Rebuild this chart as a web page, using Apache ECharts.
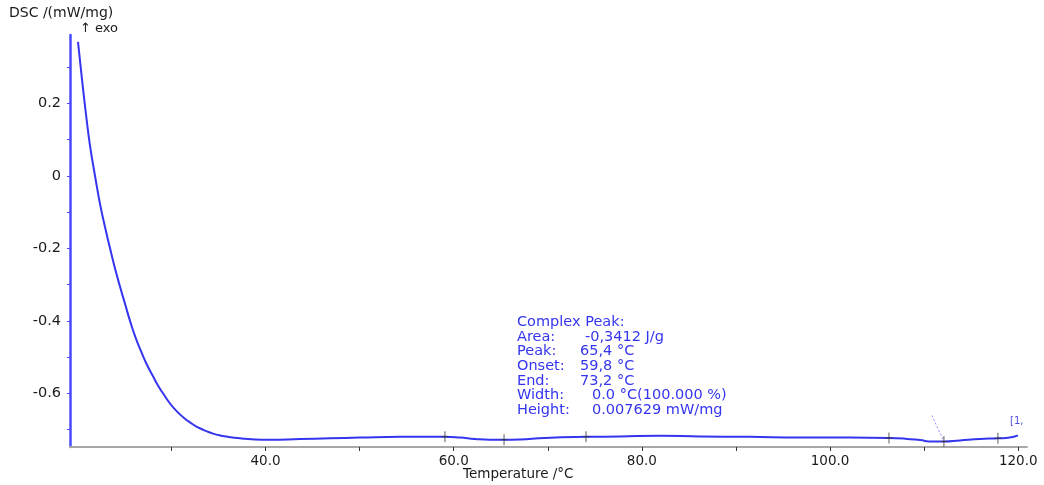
<!DOCTYPE html>
<html>
<head>
<meta charset="utf-8">
<script src="https://cdn.jsdelivr.net/npm/echarts@6/dist/echarts.min.js"></script>
<style>
html,body{margin:0;padding:0;background:#fff;}
#chart{width:1044px;height:485px;}
</style>
</head>
<body>
<div id="chart"></div>
<script>
// Temperature (°C) and DSC (mW/mg)
const temps = [20.07, 20.50, 20.92, 21.35, 21.88, 22.41, 22.94, 23.47, 24.00, 24.54, 25.07, 25.60, 26.23, 26.87, 27.40, 28.04, 28.57, 29.21, 29.85, 30.38, 30.91, 31.44, 31.97, 32.61, 33.25, 33.78, 34.42, 35.16, 36.01, 37.29, 38.88, 40.47, 43.66, 46.85, 50.04, 54.29, 59.07, 60.67, 62.26, 63.86, 65.35, 67.05, 69.70, 74.06, 77.67, 81.92, 86.17, 91.49, 96.80, 102.11, 106.26, 107.96, 109.55, 110.83, 112.10, 113.80, 115.93, 117.84, 119.11, 119.96];
const dsc = [0.370, 0.265, 0.170, 0.083, 0.000, -0.077, -0.141, -0.199, -0.255, -0.306, -0.353, -0.400, -0.449, -0.490, -0.521, -0.553, -0.578, -0.604, -0.628, -0.644, -0.658, -0.670, -0.680, -0.691, -0.699, -0.705, -0.711, -0.716, -0.720, -0.724, -0.727, -0.728, -0.726, -0.724, -0.722, -0.720, -0.720, -0.722, -0.726, -0.728, -0.728, -0.727, -0.723, -0.720, -0.719, -0.717, -0.719, -0.720, -0.722, -0.722, -0.723, -0.725, -0.729, -0.733, -0.733, -0.730, -0.726, -0.724, -0.722, -0.716];
// evaluation markers (+)
const markerTemps = [59.07, 65.35, 74.06, 106.26, 112.10, 117.84];
const markerDsc = [-0.720, -0.728, -0.720, -0.723, -0.733, -0.724];
// dotted construction line
const guideTemps = [110.83, 112.10];
const guideDsc = [-0.661, -0.733];
// axis ticks / labels
const xLabelValues = [40, 60, 80, 100, 120];
const xTickValues = [30, 40, 50, 60, 70, 80, 90, 100, 110, 120];
const yLabelValues = [-0.6, -0.4, -0.2, 0, 0.2];
const yTickValues = [-0.7, -0.6, -0.5, -0.4, -0.3, -0.2, -0.1, 0, 0.1, 0.2, 0.3];
const resultLabels = ['Complex Peak:', 'Area:', 'Peak:', 'Onset:', 'End:', 'Width:', 'Height:'];
const resultValues = ['', '-0,3412 J/g', '65,4 °C', '59,8 °C', '73,2 °C', '0.0 °C(100.000 %)', '0.007629 mW/mg'];

const FONT = 'DejaVu Sans';
const BLUE = '#3535f0';
const chart = echarts.init(document.getElementById('chart'), null, {renderer: 'canvas'});

const valueLeft = [0, 585, 580, 580, 580, 592, 592];
const graphics = [
  {type: 'text', left: 9, top: 6, style: {text: 'DSC /(mW/mg)', font: '14px "DejaVu Sans"', fill: '#1a1a1a'}},
  {type: 'text', left: 80, top: 22, style: {text: '↑ exo', font: '13px "DejaVu Sans"', fill: '#1a1a1a'}},
  {type: 'text', left: 463, top: 467, style: {text: 'Temperature /°C', font: '13.5px "DejaVu Sans"', fill: '#1a1a1a'}},
  {type: 'text', left: 1010, top: 416, style: {text: '[1,', font: '10px "DejaVu Sans"', fill: '#5050e0'}}
];
resultLabels.forEach((lab, i) => {
  graphics.push({type: 'text', left: 517, top: 315 + i * 14.6,
    style: {text: lab, font: '14.5px "DejaVu Sans"', fill: BLUE}});
  if (resultValues[i]) graphics.push({type: 'text', left: valueLeft[i], top: 315 + i * 14.6,
    style: {text: resultValues[i], font: '14.5px "DejaVu Sans"', fill: BLUE}});
});

chart.setOption({
  animation: false,
  backgroundColor: '#fff',
  grid: {left: 70, right: 17, top: 35, bottom: 38},
  xAxis: {
    type: 'value', min: 19.22, max: 120.93,
    axisLine: {show: true, onZero: false, lineStyle: {color: '#a8a8a8', width: 2}},
    axisTick: {show: true, customValues: xTickValues, length: 4, lineStyle: {color: '#333', width: 1}},
    axisLabel: {customValues: xLabelValues, formatter: v => v.toFixed(1), color: '#1a1a1a',
      fontFamily: FONT, fontSize: 13.5, margin: 7},
    splitLine: {show: false}
  },
  yAxis: {
    type: 'value', min: -0.748, max: 0.389,
    axisLine: {show: true, onZero: false, lineStyle: {color: '#4a4aff', width: 2.5}},
    axisTick: {show: true, customValues: yTickValues, length: 3, lineStyle: {color: '#4a4aff', width: 1}},
    axisLabel: {customValues: yLabelValues, formatter: v => String(Math.round(v * 10) / 10), color: '#1a1a1a',
      fontFamily: FONT, fontSize: 14.5, margin: 9},
    splitLine: {show: false}
  },
  graphic: graphics,
  series: [
    {
      type: 'line', data: temps.map((t, i) => [t, dsc[i]]), symbol: 'none',
      smooth: 0.5,
      lineStyle: {color: BLUE, width: 2, join: 'round'}, z: 3
    },
    {
      type: 'line', data: guideTemps.map((t, i) => [t, guideDsc[i]]), symbol: 'none',
      lineStyle: {color: '#8a8aff', width: 1, type: [2, 2]}, z: 2
    },
    {
      type: 'scatter', data: markerTemps.map((t, i) => [t, markerDsc[i]]),
      symbol: 'path://M3,0H4V11H3Z M0,5H7V6H0Z', symbolSize: [7, 11],
      itemStyle: {color: '#333'}, z: 4
    }
  ]
});
</script>
</body>
</html>
